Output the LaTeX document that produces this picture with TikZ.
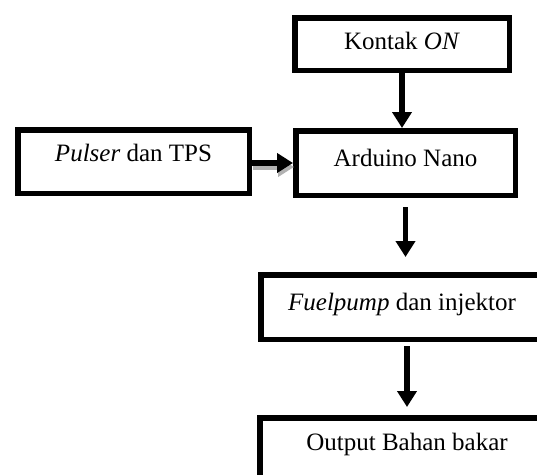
\documentclass[tikz,border=0pt]{standalone}
\usepackage{fontspec}
\setmainfont{Liberation Serif}
\usetikzlibrary{arrows.meta,positioning,calc}

\begin{document}
\begin{tikzpicture}[x=1pt,y=-1pt,
  blok/.style={rectangle,draw,line width=5.5pt,font=\fontsize{25}{30}\selectfont,text height=17pt,text depth=#1},
  blok/.default=5.5pt,
  panah/.style={-{Triangle[length=16pt,width=19pt]},line width=5.5pt}]
% page
\useasboundingbox (0,0) rectangle (537,474);
\clip (0,0) rectangle (537,474);

% blocks
\node[blok,minimum width=214.5pt,minimum height=52.5pt,name=kontak] at (402,44) {Kontak \textit{ON}};
\node[blok=11pt,minimum width=219.5pt,minimum height=64.5pt,name=arduino] at (405.5,163) {Arduino Nano};
\node[blok=17pt,minimum width=231.5pt,minimum height=63.5pt,name=pulser] at (133.5,161.5) {\textit{Pulser} dan TPS};
\node[blok=11pt,minimum width=282.5pt,minimum height=64.5pt,name=fuel] at (402,307) {\textit{Fuelpump} dan injektor};
\node[blok=17pt,minimum width=294.5pt,minimum height=64.5pt,name=output] at (407,450) {Output Bahan bakar};

% arrows
\draw[panah] (kontak.south) -- (kontak.south |- arduino.north);
\draw[panah,gray!60] ($(pulser.east |- arduino.west)+(1,4)$) -- ($(arduino.west)+(1,4)$);
\draw[panah] (pulser.east |- arduino.west) -- (arduino.west);
\draw[panah,shorten <=9pt,shorten >=15pt] (arduino.south) -- (arduino.south |- fuel.north);
\draw[panah,shorten <=4pt,shorten >=8pt] (fuel.south -| output.north) -- (output.north);
\end{tikzpicture}
\end{document}
